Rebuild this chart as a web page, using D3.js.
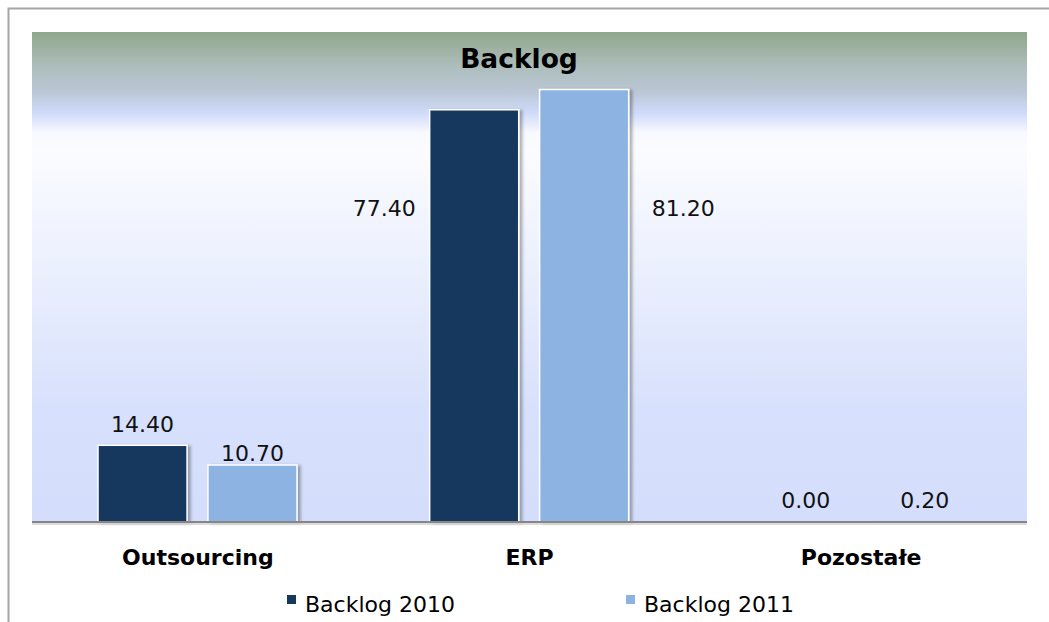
<!DOCTYPE html>
<html>
<head>
<meta charset="utf-8">
<script src="https://cdn.jsdelivr.net/npm/d3@7"></script>
<style>
  body { margin: 0; background: #fff; }
  text { font-family: "DejaVu Sans", Verdana, sans-serif; }
</style>
</head>
<body>
<div id="chart"></div>
<script>
// Data
const categories = ["Outsourcing", "ERP", "Pozostałe"];
const seriesNames = ["Backlog 2010", "Backlog 2011"];
const backlog2010 = [14.40, 77.40, 0.00];
const backlog2011 = [10.70, 81.20, 0.20];
const title = "Backlog";

const colors = ["#17375e", "#8db3e2"];

// label placement per series/category (how Excel put them)
const labelPlace = [
    [{ pos: "top", dy: -13, dx: 0 }, { pos: "left" }, { pos: "top", dy: -14, dx: 0 }],
    [{ pos: "top", dy: -4, dx: 0 }, { pos: "right" }, { pos: "top", dy: -13, dx: 9 }]
];

const width = 1049;
const height = 622;
const plot = { left: 32, right: 1027, top: 32, bottom: 522 };

const svg = d3.select("#chart")
    .append("svg")
    .attr("width", width)
    .attr("height", height);

const defs = svg.append("defs");

const grad = defs.append("linearGradient")
    .attr("id", "bg")
    .attr("x1", 0).attr("y1", 0)
    .attr("x2", 0).attr("y2", 1);
[
    [0, "#91a78b"], [0.07, "#adbdbb"], [0.125, "#bcc8d8"], [0.165, "#cfdbf9"],
    [0.186, "#e4eafd"], [0.205, "#f8f9ff"], [0.24, "#fbfcff"], [0.5, "#eaeffe"], [0.78, "#d7e0fc"], [1, "#d4defc"]
].forEach(s => grad.append("stop").attr("offset", s[0]).attr("stop-color", s[1]));

const shadow = defs.append("filter")
    .attr("id", "shadow")
    .attr("x", "-10%").attr("y", "-10%")
    .attr("width", "130%").attr("height", "130%");
shadow.append("feDropShadow")
    .attr("dx", 3).attr("dy", 1)
    .attr("stdDeviation", 1.5)
    .attr("flood-color", "#000")
    .attr("flood-opacity", 0.3);

// outer frame
svg.append("rect")
    .attr("x", 8.5).attr("y", 8.5)
    .attr("width", 1100).attr("height", 700)
    .attr("fill", "none")
    .attr("stroke", "#a6a6a6")
    .attr("stroke-width", 2);

// plot area
svg.append("rect")
    .attr("x", plot.left).attr("y", plot.top)
    .attr("width", plot.right - plot.left)
    .attr("height", plot.bottom - plot.top)
    .attr("fill", "url(#bg)");

const x0 = d3.scaleBand()
    .domain(categories)
    .range([plot.left, plot.right]);

const x1 = d3.scaleBand()
    .domain(seriesNames)
    .range([66, 265])
    .paddingInner(0.19);

const y = d3.scaleLinear()
    .domain([0, 92])
    .range([plot.bottom, plot.top]);

const values = [backlog2010, backlog2011];
const rows = [];
seriesNames.forEach((s, si) => {
    categories.forEach((c, ci) => {
        rows.push({ series: s, si: si, cat: c, ci: ci, value: values[si][ci] });
    });
});

// bars
svg.selectAll(".bar")
    .data(rows)
    .enter()
    .append("rect")
    .attr("class", "bar")
    .attr("x", d => x0(d.cat) + x1(d.series))
    .attr("y", d => y(d.value))
    .attr("width", x1.bandwidth())
    .attr("height", d => y(0) - y(d.value))
    .attr("fill", d => colors[d.si])
    .attr("stroke", d => d.value > 1 ? "#fff" : "none")
    .attr("stroke-width", 1.5)
    .attr("filter", d => d.value > 1 ? "url(#shadow)" : null);

// category axis
const xAxis = d3.axisBottom(x0).tickSize(0).tickPadding(0);
const gx = svg.append("g")
    .attr("class", "x-axis")
    .attr("transform", `translate(0,${plot.bottom})`)
    .call(xAxis);
gx.select(".domain").remove();
gx.append("line")
    .attr("x1", plot.left).attr("x2", plot.right)
    .attr("y1", 2).attr("y2", 2)
    .attr("stroke", "#d0d0d0")
    .attr("stroke-width", 1.5);
gx.append("line")
    .attr("x1", plot.left).attr("x2", plot.right)
    .attr("y1", 0).attr("y2", 0)
    .attr("stroke", "#868686")
    .attr("stroke-width", 2);
gx.selectAll(".tick text")
    .attr("dy", 0)
    .attr("y", 43)
    .attr("font-size", 22)
    .attr("font-weight", "bold")
    .attr("fill", "#000")
    .style("font-family", "'DejaVu Sans', Verdana, sans-serif");

// value labels
const sideY = y(57.5);
svg.selectAll(".value")
    .data(rows)
    .enter()
    .append("text")
    .attr("class", "value")
    .attr("font-size", 22)
    .attr("fill", "#111")
    .attr("text-anchor", d => {
        const p = labelPlace[d.si][d.ci].pos;
        return p === "left" ? "end" : p === "right" ? "start" : "middle";
    })
    .attr("x", d => {
        const p = labelPlace[d.si][d.ci];
        const bx = x0(d.cat) + x1(d.series);
        if (p.pos === "left") return bx - 14;
        if (p.pos === "right") return bx + x1.bandwidth() + 23;
        return bx + x1.bandwidth() / 2 + p.dx;
    })
    .attr("y", d => {
        const p = labelPlace[d.si][d.ci];
        if (p.pos === "top") return y(d.value) + p.dy;
        return sideY;
    })
    .text(d => d3.format(".2f")(d.value));

// title
svg.append("text")
    .attr("x", 519)
    .attr("y", 68)
    .attr("text-anchor", "middle")
    .attr("font-size", 26.5)
    .attr("font-weight", "bold")
    .attr("fill", "#000")
    .text(title);

// legend
const legend = svg.selectAll(".legend")
    .data(seriesNames)
    .enter()
    .append("g")
    .attr("class", "legend")
    .attr("transform", (d, i) => `translate(${287 + i * 339},0)`);
legend.append("rect")
    .attr("x", 0).attr("y", 595)
    .attr("width", 9).attr("height", 9)
    .attr("fill", (d, i) => colors[i]);
legend.append("text")
    .attr("x", 18).attr("y", 612)
    .attr("font-size", 22)
    .attr("fill", "#000")
    .text(d => d);
</script>
</body>
</html>
